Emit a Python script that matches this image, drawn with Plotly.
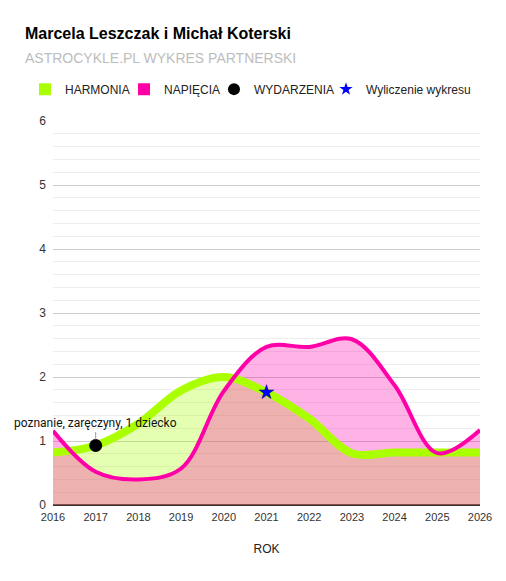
import plotly.graph_objects as go

# data
years = [2016, 2017, 2018, 2019, 2020, 2021, 2022, 2023, 2024, 2025, 2026]
harmonia = [0.82, 0.93, 1.27, 1.79, 2.00, 1.76, 1.35, 0.81, 0.82, 0.82, 0.82]
napiecia = [1.16, 0.52, 0.40, 0.57, 1.78, 2.47, 2.47, 2.59, 1.87, 0.81, 1.17]

event_years = [2017]
event_values = [0.93]
event_labels = ["poznanie, zaręczyny, 1 dziecko"]

calc_year = [2021]
calc_value = [1.76]

GREEN = "#aaff00"
PINK = "#ff00a8"
FONT = "Arial, Liberation Sans, sans-serif"

fig = go.Figure()

# fills first, lines on top so the green line stays bright over the pink area
fig.add_trace(go.Scatter(
    x=years, y=harmonia, mode="none", line=dict(shape="spline"),
    fill="tozeroy", fillcolor="rgba(170,255,0,0.3)", showlegend=False, hoverinfo="skip"))
fig.add_trace(go.Scatter(
    x=years, y=napiecia, mode="none", line=dict(shape="spline"),
    fill="tozeroy", fillcolor="rgba(255,0,168,0.3)", showlegend=False, hoverinfo="skip"))
fig.add_trace(go.Scatter(
    x=years, y=harmonia, mode="lines", line=dict(color=GREEN, width=8, shape="spline"),
    showlegend=False, hoverinfo="skip"))
fig.add_trace(go.Scatter(
    x=years, y=napiecia, mode="lines", line=dict(color=PINK, width=4, shape="spline"),
    showlegend=False, hoverinfo="skip"))

fig.add_trace(go.Scatter(
    x=event_years, y=event_values, mode="markers",
    marker=dict(color="black", size=13), showlegend=False))
fig.add_trace(go.Scatter(
    x=calc_year, y=calc_value, mode="markers",
    marker=dict(color="blue", size=11, symbol="star", line=dict(color="#000066", width=0.5)),
    showlegend=False))

# legend entries, one legend box each so they can sit like the google sheets legend
legend_items = [
    ("HARMONIA", dict(color=GREEN, size=12, symbol="square"), "legend"),
    ("NAPIĘCIA", dict(color=PINK, size=12, symbol="square"), "legend2"),
    ("WYDARZENIA", dict(color="black", size=12, symbol="circle"), "legend3"),
    ("Wyliczenie wykresu", dict(color="blue", size=10, symbol="star"), "legend4"),
]
for name, marker, leg in legend_items:
    fig.add_trace(go.Scatter(x=[None], y=[None], mode="markers", name=name,
                             marker=marker, legend=leg))

for ex, ey, label in zip(event_years, event_values, event_labels):
    fig.add_annotation(x=ex, y=ey, text=label, showarrow=True, arrowhead=0,
                       arrowwidth=1, arrowcolor="#999999", ax=0, ay=-22, standoff=6,
                       font=dict(family="Roboto", size=12, color="#111111"))

fig.add_annotation(xref="paper", yref="paper", x=-0.0703, y=1.2266, xanchor="left",
                   yanchor="middle", showarrow=False,
                   text="<b>Marcela Leszczak i Michał Koterski</b>",
                   font=dict(family=FONT, size=16, color="#000000"))
fig.add_annotation(xref="paper", yref="paper", x=-0.0703, y=1.164, xanchor="left",
                   yanchor="middle", showarrow=False,
                   text="ASTROCYKLE.PL WYKRES PARTNERSKI",
                   font=dict(family=FONT, size=14, color="#bdbdbd"))


def legend_box(x):
    return dict(orientation="h", x=x, xanchor="left", y=1.083, yanchor="middle",
                font=dict(family=FONT, size=12, color="#222222"), itemwidth=30,
                bgcolor="rgba(0,0,0,0)")


# page body has an 8px margin, so the figure is 8px smaller than the window
fig.update_layout(
    width=498, height=573, autosize=False,
    margin=dict(l=45, r=26, t=113, b=76),
    paper_bgcolor="white", plot_bgcolor="white",
    font=dict(family=FONT, size=12, color="#222222"),
    legend=legend_box(-0.0656),
    legend2=legend_box(0.1663),
    legend3=legend_box(0.3770),
    legend4=legend_box(0.6393),
    xaxis=dict(range=[2016, 2026], tickmode="linear", tick0=2016, dtick=1,
               showgrid=False, zeroline=False, showline=False, ticklabelstandoff=4,
               tickfont=dict(size=11, color="#333333"),
               title=dict(text="ROK", font=dict(size=12, color="#222222"), standoff=22)),
    yaxis=dict(range=[0, 6], tickmode="linear", tick0=0, dtick=1,
               gridcolor="#cccccc", gridwidth=1, zeroline=True, zerolinecolor="#333333",
               zerolinewidth=1.5, ticks="", ticklabelstandoff=6,
               tickfont=dict(size=12, color="#333333"),
               minor=dict(dtick=0.2, showgrid=True, gridcolor="#eeeeee", gridwidth=1)),
)

fig.write_html("out.html")
